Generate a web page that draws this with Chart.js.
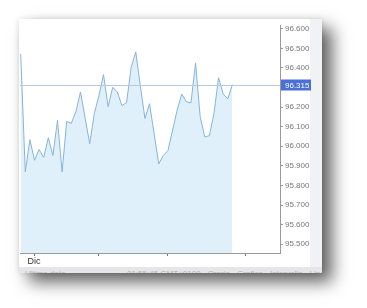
<!DOCTYPE html>
<html>
<head>
<meta charset="utf-8">
<script src="https://cdn.jsdelivr.net/npm/chart.js@4/dist/chart.umd.min.js"></script>
<style>
  html, body { margin: 0; padding: 0; background: #fff; width: 367px; height: 308px; overflow: hidden; }
  #card {
    position: absolute; left: 19px; top: 19px; width: 303px; height: 254px;
    background: #fff;
    box-shadow: 10px 9px 16px rgba(0,0,0,0.62), 0 0 5px rgba(0,0,0,0.12);
    overflow: hidden;
  }
  #side { position: absolute; left: 291px; top: 0; width: 12px; height: 248px; background: #f1f2f6; }
  #foot {
    position: absolute; left: 0; top: 248px; width: 303px; height: 6px; background: #e6e6e8;
    overflow: hidden; font: 8px "Liberation Sans", Arial, sans-serif; color: #b0b0b0; white-space: nowrap;
  }
  #foot span { position: absolute; top: 2px; }
  canvas { position: absolute; left: 0; top: 0; }
</style>
</head>
<body>
<div id="card">
  <div id="side"></div>
  <canvas id="chart" width="303" height="248"></canvas>
  <div id="foot">
    <span style="left:6px">Ultimo dato</span>
    <span style="left:108px">01:55:45 GMT+0100 · Orario · Grafico · Intervallo · Lineare · ⚙</span>
  </div>
</div>
<script>
// Series: point index along the time axis and the price at that point
const pointIndex = [0, 1, 2, 3, 4, 5, 6, 7, 8, 9, 10, 11, 12, 13, 15, 16, 17, 18, 19, 20,
  21, 22, 23, 24, 25, 26, 27, 28, 30, 31, 32, 34, 35, 36, 37, 38, 39, 40, 41, 42,
  43, 44, 45, 46];
const prices = [96.471, 95.869, 96.034, 95.928, 95.983, 95.943, 96.043, 95.953, 96.132, 95.869,
  96.127, 96.117, 96.177, 96.277, 96.013, 96.167, 96.258, 96.366, 96.202, 96.301,
  96.277, 96.208, 96.222, 96.401, 96.482, 96.308, 96.142, 96.217, 95.910, 95.953,
  95.978, 96.184, 96.267, 96.227, 96.222, 96.426, 96.152, 96.048, 96.054, 96.167,
  96.350, 96.267, 96.242, 96.315];

// Axis ticks
const xTickValues = [2.9, 16.8, 31.8, 48.8];
const xTickLabels = ["Dic", "", "", ""];
const yTickValues = [95.5, 95.6, 95.7, 95.8, 95.9, 96.0, 96.1, 96.2, 96.4, 96.5, 96.6];

const lastPrice = prices[prices.length - 1];

// Draws the last-price line and its label on the right axis
const lastPricePlugin = {
  id: "lastPrice",
  afterDraw(chart) {
    const { ctx, chartArea } = chart;
    const y = Math.round(chart.scales.y.getPixelForValue(lastPrice)) + 0.5;
    ctx.save();
    ctx.strokeStyle = "#b9c7e3";
    ctx.lineWidth = 1;
    ctx.beginPath();
    ctx.moveTo(chartArea.left, y);
    ctx.lineTo(chartArea.right, y);
    ctx.stroke();
    ctx.fillStyle = "#4a6fd8";
    ctx.fillRect(chartArea.right + 1, y - 6, 30, 11);
    ctx.fillStyle = "#fff";
    ctx.font = "8px 'Liberation Sans', Arial, sans-serif";
    ctx.textBaseline = "middle";
    ctx.fillText(lastPrice.toFixed(3), chartArea.right + 5, y);
    ctx.restore();
  }
};

new Chart(document.getElementById("chart"), {
  type: "line",
  data: {
    datasets: [{
      data: pointIndex.map((x, i) => ({ x: x, y: prices[i] })),
      borderColor: "#86b4db",
      backgroundColor: "#e0f0fa",
      borderWidth: 1,
      fill: "start",
      pointRadius: 0,
      tension: 0
    }]
  },
  options: {
    responsive: false,
    animation: false,
    layout: { padding: { left: 1, top: 1, right: 12, bottom: 0 } },
    plugins: { legend: { display: false }, tooltip: { enabled: false } },
    scales: {
      x: {
        type: "linear",
        min: -0.15,
        max: 56.35,
        afterBuildTicks: (scale) => { scale.ticks = xTickValues.map(v => ({ value: v })); },
        afterFit: (scale) => { scale.height = 14; },
        grid: { drawOnChartArea: false, tickLength: 3, color: "#777" },
        border: { color: "#9a9a9a" },
        ticks: {
          padding: 0,
          maxRotation: 0,
          autoSkip: false,
          color: "#333",
          font: { family: "'Liberation Sans', Arial, sans-serif", size: 9 },
          callback: (v, i) => xTickLabels[i]
        }
      },
      y: {
        position: "right",
        min: 95.455,
        max: 96.615,
        afterBuildTicks: (scale) => { scale.ticks = yTickValues.map(v => ({ value: v })); },
        afterFit: (scale) => { scale.width = 30; },
        grid: { drawOnChartArea: false, tickLength: 3, color: "#9a9a9a" },
        border: { color: "#9a9a9a" },
        ticks: {
          padding: 2,
          autoSkip: false,
          color: "#777",
          font: { family: "'Liberation Sans', Arial, sans-serif", size: 8 },
          callback: (v) => Number(v).toFixed(3)
        }
      }
    }
  },
  plugins: [lastPricePlugin]
});
</script>
</body>
</html>
